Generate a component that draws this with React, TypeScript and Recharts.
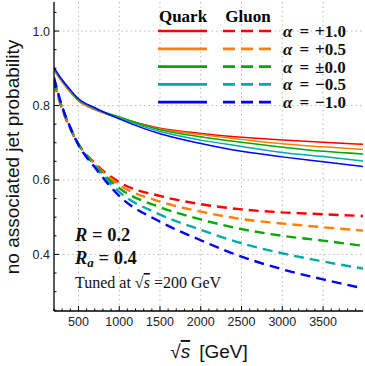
import { LineChart, Line, XAxis, YAxis, CartesianGrid } from "recharts";

// sqrt(s) in GeV
const sqrtS = [200, 300, 400, 500, 700, 1000, 1500, 2000, 2500, 3000, 3500, 3990];

// quark jets (solid)
const quarkP10 = [0.896, 0.864, 0.836, 0.813, 0.789, 0.767, 0.739, 0.725, 0.715, 0.707, 0.701, 0.696];
const quarkP05 = [0.894, 0.863, 0.836, 0.812, 0.790, 0.767, 0.737, 0.722, 0.709, 0.697, 0.689, 0.682];
const quarkZ00 = [0.899, 0.866, 0.839, 0.816, 0.792, 0.769, 0.735, 0.716, 0.701, 0.688, 0.677, 0.670];
const quarkM05 = [0.900, 0.867, 0.840, 0.817, 0.792, 0.766, 0.730, 0.707, 0.690, 0.674, 0.663, 0.651];
const quarkM10 = [0.902, 0.869, 0.842, 0.818, 0.794, 0.764, 0.724, 0.698, 0.677, 0.662, 0.649, 0.636];

// gluon jets (dashed)
const gluonP10 = [0.862, 0.790, 0.737, 0.696, 0.645, 0.594, 0.557, 0.535, 0.521, 0.513, 0.508, 0.503];
const gluonP05 = [0.864, 0.793, 0.739, 0.696, 0.643, 0.587, 0.542, 0.515, 0.495, 0.483, 0.473, 0.464];
const gluonZ00 = [0.868, 0.794, 0.740, 0.696, 0.640, 0.578, 0.527, 0.494, 0.468, 0.450, 0.437, 0.423];
const gluonM05 = [0.871, 0.795, 0.740, 0.695, 0.637, 0.568, 0.507, 0.466, 0.430, 0.403, 0.381, 0.362];
const gluonM10 = [0.875, 0.797, 0.741, 0.694, 0.634, 0.557, 0.488, 0.438, 0.394, 0.360, 0.333, 0.309];

const alphaLabels = ["+1.0", "+0.5", "\u00b10.0", "\u22120.5", "\u22121.0"];
const colors = ["#ff0000", "#ff8000", "#00aa00", "#00aaaa", "#0000ff"];
const quarkSeries = [quarkP10, quarkP05, quarkZ00, quarkM05, quarkM10];
const gluonSeries = [gluonP10, gluonP05, gluonZ00, gluonM05, gluonM10];

const xMajor = [500, 1000, 1500, 2000, 2500, 3000, 3500];
const yMajor = [0.4, 0.6, 0.8, 1.0];
const xTicks = Array.from({ length: 38 }, (_, i) => 200 + i * 100);
const yTicks = Array.from({ length: 17 }, (_, i) => Math.round((0.25 + i * 0.05) * 100) / 100);

const data = sqrtS.map((s, i) => {
  const row: Record<string, number> = { s };
  quarkSeries.forEach((arr, k) => (row["q" + k] = arr[i]));
  gluonSeries.forEach((arr, k) => (row["g" + k] = arr[i]));
  return row;
});

const sans = "'Liberation Sans', Arial, Helvetica, sans-serif";
const serif = "'Liberation Serif', 'Times New Roman', serif";

const isMajor = (list: number[], v: number) => list.some((m) => Math.abs(m - v) < 1e-6);

const BottomTick = (props: any) => {
  const { x, y, payload } = props;
  const major = isMajor(xMajor, payload.value);
  return (
    <g>
      <line x1={x} x2={x} y1={y} y2={y - (major ? 5 : 2.5)} stroke="#000" strokeWidth={1} />
      {major && (
        <text x={x} y={y + 15} textAnchor="middle" fontSize={12.5} fontFamily={sans} fill="#222">
          {payload.value}
        </text>
      )}
    </g>
  );
};

const TopTick = (props: any) => {
  const { x, y, payload } = props;
  const major = isMajor(xMajor, payload.value);
  return <line x1={x} x2={x} y1={y} y2={y + (major ? 5 : 2.5)} stroke="#000" strokeWidth={1} />;
};

const LeftTick = (props: any) => {
  const { x, y, payload } = props;
  const major = isMajor(yMajor, payload.value);
  return (
    <g>
      <line x1={x} x2={x + (major ? 5 : 2.5)} y1={y} y2={y} stroke="#000" strokeWidth={1} />
      {major && (
        <text x={x - 4} y={y + 4.5} textAnchor="end" fontSize={12.5} fontFamily={sans} fill="#222">
          {payload.value.toFixed(1)}
        </text>
      )}
    </g>
  );
};

const RightTick = (props: any) => {
  const { x, y, payload } = props;
  const major = isMajor(yMajor, payload.value);
  return <line x1={x} x2={x - (major ? 5 : 2.5)} y1={y} y2={y} stroke="#000" strokeWidth={1} />;
};

const frame = { stroke: "#000", strokeWidth: 1.3 };

const Overlay = () => (
  <svg width={365} height={366} style={{ position: "absolute", left: 0, top: 0, pointerEvents: "none" }}>
    {/* axis titles */}
    <text
      transform="translate(19,157) rotate(-90)"
      textAnchor="middle"
      fontSize={19}
      fontFamily={sans}
      fill="#111"
    >
      no associated jet probability
    </text>
    <text x={209} y={358} textAnchor="middle" fontSize={19} fontFamily={sans} fill="#111">
      {"\u221a"}
      <tspan fontStyle="italic" textDecoration="overline">s</tspan>
      <tspan dx={9}>[GeV]</tspan>
    </text>

    {/* legend */}
    <text x={183} y={22} textAnchor="middle" fontSize={17} fontWeight="bold" fontFamily={serif}>
      Quark
    </text>
    <text x={248} y={22} textAnchor="middle" fontSize={17} fontWeight="bold" fontFamily={serif}>
      Gluon
    </text>
    {alphaLabels.map((lab, i) => {
      const ly = 31 + i * 17.8;
      return (
        <g key={lab}>
          <line x1={158} x2={207} y1={ly} y2={ly} stroke={colors[i]} strokeWidth={2.7} />
          <line x1={223} x2={272} y1={ly} y2={ly} stroke={colors[i]} strokeWidth={2.7} strokeDasharray="12 6" />
          <text x={283} y={ly + 6} fontSize={17} fontWeight="bold" fontFamily={serif} fill="#111">
            <tspan fontStyle="italic">{"\u03b1"}</tspan>
            <tspan dx={7}>=</tspan>
            <tspan dx={6}>{lab}</tspan>
          </text>
        </g>
      );
    })}

    {/* annotations */}
    <text x={75} y={241} fontSize={18.5} fontWeight="bold" fontFamily={serif} fill="#111">
      <tspan fontStyle="italic">R</tspan>
      {" = 0.2"}
    </text>
    <text x={75} y={264} fontSize={18.5} fontWeight="bold" fontFamily={serif} fill="#111">
      <tspan fontStyle="italic">R</tspan>
      <tspan fontStyle="italic" fontSize={13} dy={3}>a</tspan>
      <tspan dy={-3}>{" = 0.4"}</tspan>
    </text>
    <text x={75} y={288} fontSize={16} fontFamily={serif} fill="#111">
      {"Tuned at \u221a"}
      <tspan fontStyle="italic" textDecoration="overline">s</tspan>
      {" =200 GeV"}
    </text>
  </svg>
);

export default function App() {
  return (
    <div style={{ position: "absolute", left: 0, top: 0, width: 365, height: 366, background: "#fff" }}>
      <LineChart width={365} height={366} data={data} margin={{ top: 2, right: 2, bottom: 0, left: 0 }}>
        <CartesianGrid
          stroke="#b8b8b8"
          strokeDasharray="1.5 3"
          verticalValues={xMajor}
          horizontalValues={yMajor}
        />
        <XAxis
          dataKey="s"
          type="number"
          domain={[200, 3990]}
          ticks={xTicks}
          interval={0}
          height={55}
          tickSize={0}
          tickMargin={0}
          tickLine={false}
          tick={BottomTick}
          axisLine={frame}
          allowDataOverflow
        />
        <XAxis
          xAxisId="top"
          orientation="top"
          dataKey="s"
          type="number"
          domain={[200, 3990]}
          ticks={xTicks}
          interval={0}
          height={0}
          tickSize={0}
          tickMargin={0}
          tickLine={false}
          tick={TopTick}
          axisLine={frame}
          allowDataOverflow
        />
        <YAxis
          type="number"
          domain={[0.248, 1.078]}
          ticks={yTicks}
          interval={0}
          width={54}
          tickSize={0}
          tickMargin={0}
          tickLine={false}
          tick={LeftTick}
          axisLine={frame}
          allowDataOverflow
        />
        <YAxis
          yAxisId="right"
          orientation="right"
          type="number"
          domain={[0.248, 1.078]}
          ticks={yTicks}
          interval={0}
          width={0}
          tickSize={0}
          tickMargin={0}
          tickLine={false}
          tick={RightTick}
          axisLine={frame}
          allowDataOverflow
        />
        {colors.map((c, k) => (
          <Line
            key={"g" + k}
            type="monotone"
            dataKey={"g" + k}
            stroke={c}
            strokeWidth={2.4}
            strokeDasharray="10 6"
            dot={false}
            isAnimationActive={false}
          />
        ))}
        {colors.map((c, k) => (
          <Line
            key={"q" + k}
            type="monotone"
            dataKey={"q" + k}
            stroke={c}
            strokeWidth={1.5}
            dot={false}
            isAnimationActive={false}
          />
        ))}
      </LineChart>
      <Overlay />
    </div>
  );
}
